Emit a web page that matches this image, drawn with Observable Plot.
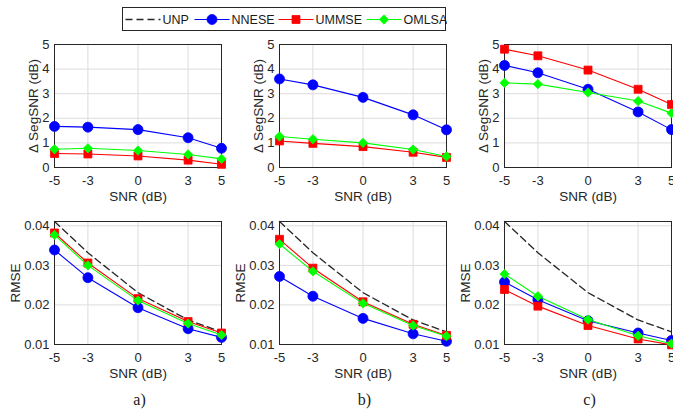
<!DOCTYPE html>
<html><head><meta charset="utf-8">
<script src="https://cdn.jsdelivr.net/npm/d3@7"></script>
<script src="https://cdn.jsdelivr.net/npm/@observablehq/plot@0.6"></script>
<style>
html,body{margin:0;padding:0;background:#fff;overflow:hidden;}
#root{position:relative;width:673px;height:410px;overflow:hidden;background:#fff;}
.panel{position:absolute;}
.panel svg{max-width:none !important;}
.cap{position:absolute;font-family:"Liberation Serif","Times New Roman",serif;font-size:16px;color:#1a1a1a;transform:translate(-50%,-50%);}
#legend{position:absolute;}
</style></head><body><div id="root"></div>
<script>
// ---- data ----
const snr = [-5, -3, 0, 3, 5];
const segTicks = [0, 1, 2, 3, 4, 5];
const rmseTicks = [0.01, 0.02, 0.03, 0.04];
const seriesNames = ["UNP", "NNESE", "UMMSE", "OMLSA"];
const seriesColors = ["#262626", "#0000ff", "#ff0000", "#00ff00"];
const seriesSymbols = [null, "circle", "square", "diamond2"];
const panelLabels = ["a)", "b)", "c)"];

// Δ SegSNR (dB)
const segA_NNESE = [1.67, 1.64, 1.54, 1.21, 0.78];
const segA_UMMSE = [0.57, 0.55, 0.47, 0.30, 0.13];
const segA_OMLSA = [0.74, 0.78, 0.69, 0.53, 0.35];
const segB_NNESE = [3.60, 3.36, 2.85, 2.14, 1.53];
const segB_UMMSE = [1.08, 0.98, 0.85, 0.62, 0.41];
const segB_OMLSA = [1.26, 1.15, 1.00, 0.73, 0.45];
const segC_NNESE = [4.15, 3.85, 3.18, 2.26, 1.54];
const segC_UMMSE = [4.81, 4.54, 3.96, 3.18, 2.56];
const segC_OMLSA = [3.44, 3.39, 3.05, 2.70, 2.21];

// RMSE
const rmse_UNP = [0.0411, 0.0332, 0.0231, 0.0162, 0.0132];
const rmseA_NNESE = [0.0339, 0.0269, 0.0193, 0.0140, 0.0118];
const rmseA_UMMSE = [0.0382, 0.0306, 0.0216, 0.0158, 0.0129];
const rmseA_OMLSA = [0.0377, 0.0300, 0.0211, 0.0153, 0.0124];
const rmseB_NNESE = [0.0272, 0.0222, 0.0166, 0.0127, 0.0108];
const rmseB_UMMSE = [0.0366, 0.0293, 0.0208, 0.0151, 0.0123];
const rmseB_OMLSA = [0.0354, 0.0285, 0.0204, 0.0148, 0.0121];
const rmseC_NNESE = [0.0258, 0.0213, 0.0160, 0.0129, 0.0110];
const rmseC_UMMSE = [0.0239, 0.0197, 0.0148, 0.0114, 0.0099];
const rmseC_OMLSA = [0.0278, 0.0222, 0.0163, 0.0122, 0.0102];

// ---- layout ----
const root = document.getElementById("root");
const frameW = 167, frameH = 123;
const mL = 48, mR = 8, mT = 8, mB = 40;
const frameLefts = [54, 279, 504];
const rowTops = [44, 221];
const font = "'Liberation Sans', Arial, Helvetica, sans-serif";

function panel(seriesArrays, yDomain, yTicks, yFmt, yLabel, yLabelDx) {
  const marks = [
    Plot.gridX(snr, {stroke: "#dcdcdc", strokeOpacity: 1}),
    Plot.gridY(yTicks, {stroke: "#dcdcdc", strokeOpacity: 1}),
    Plot.frame({stroke: "#262626", strokeWidth: 1}),
    Plot.axisX(snr, {tickSize: 0, tickPadding: 8, tickFormat: d => String(d), label: null, fontSize: 13}),
    Plot.axisY(yTicks, {tickSize: 0, tickPadding: 5, tickFormat: yFmt, label: null, fontSize: 13}),
    Plot.text([yLabel], {text: d => d, frameAnchor: "left", textAnchor: "middle", lineAnchor: "middle", dx: yLabelDx, rotate: -90, fontSize: 13.5, fill: "#262626"}),
    Plot.text(["SNR (dB)"], {text: d => d, frameAnchor: "bottom", textAnchor: "middle", lineAnchor: "middle", dy: 29, fontSize: 13.5, fill: "#262626"})
  ];
  seriesArrays.forEach((vals, i) => {
    if (!vals) return;
    const data = snr.map((x, k) => ({x, y: vals[k]}));
    if (i === 0) {
      marks.push(Plot.line(data, {x: "x", y: "y", stroke: seriesColors[0], strokeWidth: 1.3, strokeDasharray: "7,4"}));
    } else {
      marks.push(Plot.line(data, {x: "x", y: "y", stroke: seriesColors[i], strokeWidth: 1.1}));
      const r = seriesSymbols[i] === "circle" ? 5 : seriesSymbols[i] === "square" ? 4.5 : 4.2;
      marks.push(Plot.dot(data, {x: "x", y: "y", symbol: seriesSymbols[i], r, fill: seriesColors[i], stroke: seriesColors[i], strokeWidth: 0.8}));
    }
  });
  return Plot.plot({
    width: mL + frameW + mR, height: mT + frameH + mB,
    marginLeft: mL, marginRight: mR, marginTop: mT, marginBottom: mB,
    x: {domain: [-5, 5]},
    y: {domain: yDomain},
    style: {fontFamily: font, fontSize: "13px", color: "#262626", background: "transparent", overflow: "visible", maxWidth: "none"},
    marks
  });
}

const topSets = [
  [null, segA_NNESE, segA_UMMSE, segA_OMLSA],
  [null, segB_NNESE, segB_UMMSE, segB_OMLSA],
  [null, segC_NNESE, segC_UMMSE, segC_OMLSA]
];
const botSets = [
  [rmse_UNP, rmseA_NNESE, rmseA_UMMSE, rmseA_OMLSA],
  [rmse_UNP, rmseB_NNESE, rmseB_UMMSE, rmseB_OMLSA],
  [rmse_UNP, rmseC_NNESE, rmseC_UMMSE, rmseC_OMLSA]
];

function place(el, left, top) {
  const d = document.createElement("div");
  d.className = "panel";
  d.style.left = left + "px";
  d.style.top = top + "px";
  d.style.width = (mL + frameW + mR) + "px";
  d.style.height = (mT + frameH + mB) + "px";
  d.appendChild(el);
  root.appendChild(d);
}

for (let c = 0; c < 3; c++) {
  place(panel(topSets[c], [0, 5], segTicks, d => String(d), "\u0394 SegSNR (dB)", -21),
        frameLefts[c] - mL, rowTops[0] - mT);
  place(panel(botSets[c], [0.01, 0.0411], rmseTicks, d => d.toFixed(2), "RMSE", -39),
        frameLefts[c] - mL, rowTops[1] - mT);
  const cap = document.createElement("div");
  cap.className = "cap";
  cap.textContent = panelLabels[c];
  cap.style.left = (frameLefts[c] + frameW / 2 + 2) + "px";
  cap.style.top = "400px";
  root.appendChild(cap);
}

// ---- legend ----
const legW = 323, legH = 23;
const legItemX = [3, 72, 156, 244]; // line start offsets
const lineLen = 35;
const leg = d3.create("svg").attr("width", legW + 2).attr("height", legH + 2)
  .style("font-family", font).style("font-size", "12.5px");
leg.append("rect").attr("x", 0.5).attr("y", 0.5).attr("width", legW).attr("height", legH)
  .attr("fill", "#fff").attr("stroke", "#262626");
seriesNames.forEach((name, i) => {
  const x0 = legItemX[i] + 0.5, cy = 12.5;
  const g = leg.append("g");
  g.append("line").attr("x1", x0).attr("x2", x0 + lineLen).attr("y1", cy).attr("y2", cy)
    .attr("stroke", seriesColors[i]).attr("stroke-width", i === 0 ? 1.3 : 1.1)
    .attr("stroke-dasharray", i === 0 ? "7,4" : null);
  if (seriesSymbols[i]) {
    const r = seriesSymbols[i] === "circle" ? 5 : seriesSymbols[i] === "square" ? 4.5 : 4.2;
    const sym = {circle: d3.symbolCircle, square: d3.symbolSquare, diamond2: d3.symbolDiamond2}[seriesSymbols[i]];
    g.append("path").attr("d", d3.symbol(sym, Math.PI * r * r)())
      .attr("transform", `translate(${x0 + lineLen / 2},${cy})`)
      .attr("fill", seriesColors[i]).attr("stroke", seriesColors[i]).attr("stroke-width", 0.8);
  }
  g.append("text").attr("x", x0 + lineLen + 2).attr("y", cy).attr("dy", "0.36em")
    .attr("fill", "#1a1a1a").text(name);
});
const legDiv = document.createElement("div");
legDiv.id = "legend";
legDiv.style.left = "122px";
legDiv.style.top = "7px";
legDiv.appendChild(leg.node());
root.appendChild(legDiv);
</script>
</body></html>
